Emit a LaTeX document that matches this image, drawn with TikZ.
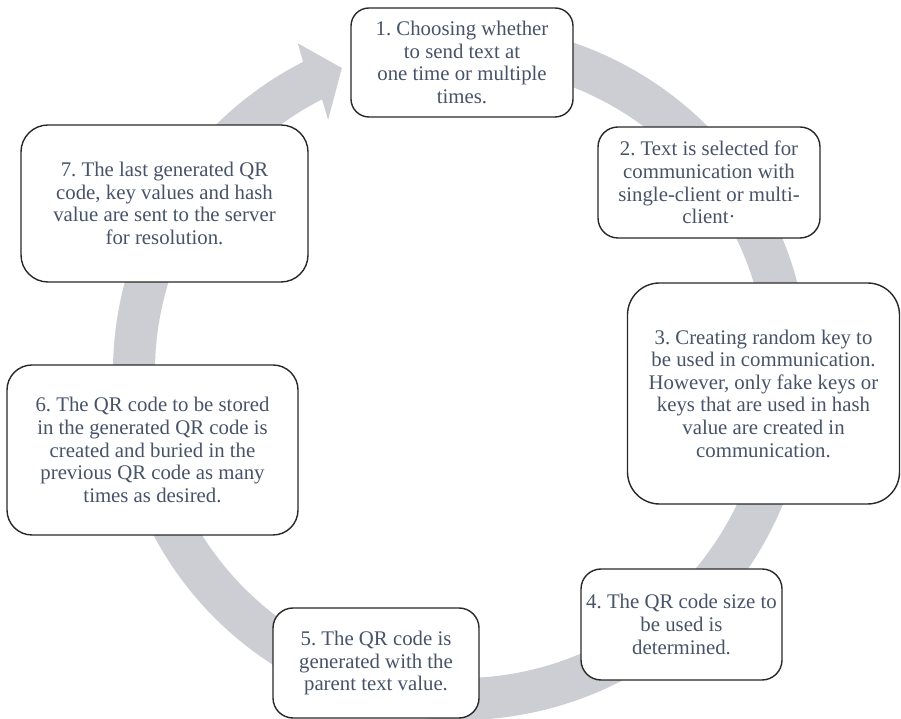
\documentclass[tikz,border=0pt]{standalone}
\usepackage{fontspec}
\setmainfont{Liberation Serif}
\frenchspacing
\definecolor{ringgray}{RGB}{205,206,212}
\definecolor{txtcol}{RGB}{72,83,104}
\definecolor{bordercol}{RGB}{40,40,40}
\begin{document}
\begin{tikzpicture}[x=1pt,y=1pt,
  stepbox/.style={draw=bordercol, line width=1.4pt, fill=white, rounded corners=#1,
    align=center, text=txtcol, inner sep=0pt,
    font=\fontsize{20.8}{22.6}\selectfont},
  stepbox/.default=20pt]
\useasboundingbox (0,0) rectangle (901,719);
% ring with arrowhead
\begin{scope}[shift={(461,347)}]
\fill[ringgray] (105:348) arc[start angle=105, end angle=-243, radius=348pt]
  -- (116.4:367) -- (111.4:326.5) -- (117.8:285) -- (117:306)
  arc[start angle=-243, end angle=105, radius=306pt] -- cycle;
\end{scope}
% boxes
\node[stepbox=18pt, minimum width=222pt, minimum height=109pt] (b1) at (462,656.5)
  {1. Choosing whether\\to send text at\\one time or multiple\\times.};
\node[stepbox=20pt, minimum width=222pt, minimum height=111pt] (b2) at (709,536.5)
  {2. Text is selected for\\communication with\\single-client or multi-\\client·};
\node[stepbox=32pt, minimum width=272pt, minimum height=221pt] (b3) at (763.5,325.5)
  {3. Creating random key to\\be used in communication.\\However, only fake keys or\\keys that are used in hash\\value are created in\\communication.};
\node[stepbox=20pt, minimum width=201pt, minimum height=111pt] (b4) at (681.5,94.5)
  {4. The QR code size to\\be used is\\determined.};
\node[stepbox=20pt, minimum width=206pt, minimum height=110pt] (b5) at (376,56)
  {5. The QR code is\\generated with the\\parent text value.};
\node[stepbox=25pt, minimum width=291pt, minimum height=170pt] (b6) at (152.5,269)
  {6. The QR code to be stored\\in the generated QR code is\\created and buried in the\\previous QR code as many\\times as desired.};
\node[stepbox=27pt, minimum width=287pt, minimum height=157pt] (b7) at (164.5,515.5)
  {7. The last generated QR\\code, key values and hash\\value are sent to the server\\for resolution.};
\end{tikzpicture}
\end{document}
